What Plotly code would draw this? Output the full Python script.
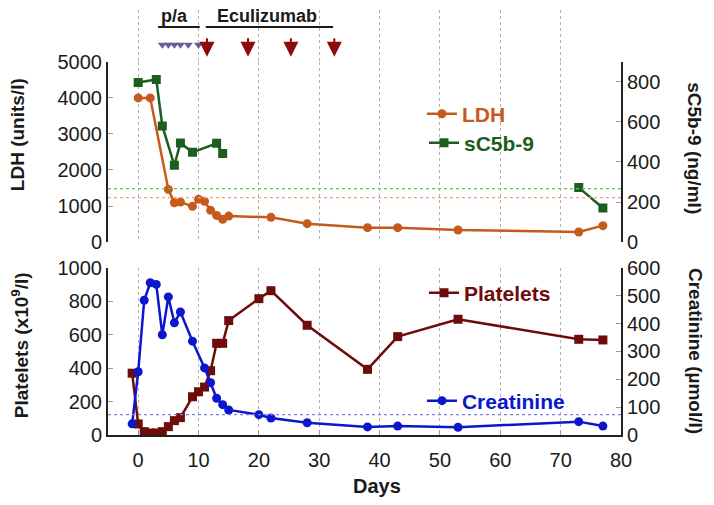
import plotly.graph_objects as go

# ---------------- data ----------------
ldh_days = [0, 2, 5, 6, 7, 9, 10, 11, 12, 13, 14, 15, 22, 28, 38, 43, 53, 73, 77]
ldh_vals = [4000, 4000, 1460, 1090, 1110, 990, 1190, 1130, 880, 740, 630, 720, 685, 510, 400, 400, 335, 280, 455]

c5b9_days_a = [0, 3, 4, 6, 7, 9, 13, 14]
c5b9_vals_a = [797, 812, 580, 383, 495, 448, 493, 442]
c5b9_days_b = [73, 77]
c5b9_vals_b = [272, 170]

plt_days = [-1, 0, 1, 2, 3, 4, 5, 6, 7, 9, 10, 11, 12, 13, 14, 15, 20, 22, 28, 38, 43, 53, 73, 77]
plt_vals = [370, 66, 20, 12, 12, 20, 50, 86, 104, 229, 259, 287, 385, 549, 549, 685, 816, 864, 657, 393, 589, 693, 573, 569]

crea_days = [-1, 0, 1, 2, 3, 4, 5, 6, 7, 9, 11, 12, 13, 14, 15, 20, 22, 28, 38, 43, 53, 73, 77]
crea_vals = [40, 227, 484, 547, 541, 360, 496, 403, 442, 337, 241, 188, 132, 109, 90, 73, 61, 44, 29, 32, 28, 48, 32]

ldh_ref = 1230
c5b9_ref = 267
crea_ref = 73

pa_days = [4, 5, 6, 7, 8.3, 10]
ecu_days = [11.4, 18.2, 25.3, 32.5]

x_ticks = [0, 10, 20, 30, 40, 50, 60, 70, 80]

# ---------------- style ----------------
FONT = "Liberation Sans, Arial, sans-serif"
C_LDH = "#c65a1c"
C_C5B = "#1c5e1f"
C_PLT = "#6e0b0b"
C_CRE = "#0c16cc"
C_PA = "#6c5b9b"
C_ARR = "#8b0a0a"
TXT = "#1a1a1a"

fig = go.Figure()

fig.add_trace(go.Scatter(x=ldh_days, y=ldh_vals, name="LDH", mode="lines+markers",
                         line=dict(color=C_LDH, width=2.5), marker=dict(symbol="circle", size=9, color=C_LDH),
                         xaxis="x", yaxis="y", legend="legend"))
fig.add_trace(go.Scatter(x=c5b9_days_a, y=c5b9_vals_a, name="sC5b-9", mode="lines+markers",
                         line=dict(color=C_C5B, width=2.5), marker=dict(symbol="square", size=9, color=C_C5B),
                         xaxis="x", yaxis="y2", legend="legend2"))
fig.add_trace(go.Scatter(x=c5b9_days_b, y=c5b9_vals_b, name="sC5b-9", mode="lines+markers", showlegend=False,
                         line=dict(color=C_C5B, width=2.5), marker=dict(symbol="square", size=9, color=C_C5B),
                         xaxis="x", yaxis="y2"))
fig.add_trace(go.Scatter(x=plt_days, y=plt_vals, name="Platelets", mode="lines+markers",
                         line=dict(color=C_PLT, width=2.5), marker=dict(symbol="square", size=9, color=C_PLT),
                         xaxis="x2", yaxis="y3", legend="legend3"))
fig.add_trace(go.Scatter(x=crea_days, y=crea_vals, name="Creatinine", mode="lines+markers",
                         line=dict(color=C_CRE, width=2.5), marker=dict(symbol="circle", size=9, color=C_CRE),
                         xaxis="x2", yaxis="y4", legend="legend4"))

# plasma-exchange triangles in a thin strip above the top panel
fig.add_trace(go.Scatter(x=pa_days, y=[0.33] * len(pa_days), mode="markers", showlegend=False,
                         marker=dict(symbol="triangle-down", size=8, color=C_PA),
                         xaxis="x", yaxis="y5", hoverinfo="skip"))

# reference lines
fig.add_shape(type="line", xref="x domain", yref="y", x0=0, x1=1, y0=ldh_ref, y1=ldh_ref,
              line=dict(color="#f2a57a", width=1.2, dash="dot"))
fig.add_shape(type="line", xref="x domain", yref="y2", x0=0, x1=1, y0=c5b9_ref, y1=c5b9_ref,
              line=dict(color="#5cc35c", width=1.2, dash="dot"))
fig.add_shape(type="line", xref="x2 domain", yref="y4", x0=0, x1=1, y0=crea_ref, y1=crea_ref,
              line=dict(color="#7d7df0", width=1.2, dash="dot"))

# eculizumab arrows
for d in ecu_days:
    fig.add_annotation(x=d, y=0.1, xref="x", yref="y5", text="", showarrow=True,
                       ax=0, ay=-20, arrowhead=2, arrowsize=1.5, arrowwidth=2, arrowcolor=C_ARR)

# top labels with underlines
fig.add_annotation(x=6.1, y=0.987, xref="x", yref="paper", text="<b>p/a</b>", showarrow=False,
                   xanchor="center", yanchor="middle", font=dict(family=FONT, size=18, color=TXT))
fig.add_annotation(x=21.3, y=0.987, xref="x", yref="paper", text="<b>Eculizumab</b>", showarrow=False,
                   xanchor="center", yanchor="middle", font=dict(family=FONT, size=18, color=TXT))
fig.add_shape(type="line", xref="x", yref="paper", x0=3.3, x1=10.2, y0=0.96, y1=0.96,
              line=dict(color=TXT, width=2))
fig.add_shape(type="line", xref="x", yref="paper", x0=11.2, x1=32.3, y0=0.96, y1=0.96,
              line=dict(color=TXT, width=2))

# axis titles
tfont = dict(family=FONT, size=19, color=TXT)
common_ann = dict(xref="paper", yref="paper", showarrow=False, xanchor="center", yanchor="middle", font=tfont)
fig.add_annotation(x=-0.175, y=0.706, text="<b>LDH (units/l)</b>", textangle=-90, **common_ann)
fig.add_annotation(x=-0.171, y=0.212, text="<b>Platelets (x10<sup>9</sup>/l)</b>", textangle=-90, **common_ann)
fig.add_annotation(x=1.144, y=0.675, text="<b>sC5b-9 (ng/ml)</b>", textangle=90, **common_ann)
fig.add_annotation(x=1.144, y=0.198, text="<b>Creatinine (µmol/l)</b>", textangle=90, **common_ann)
fig.add_annotation(x=0.524, y=-0.12, xref="paper", yref="paper", text="<b>Days</b>", showarrow=False,
                   xanchor="center", yanchor="middle", font=dict(family=FONT, size=20, color=TXT))

tickfont = dict(family=FONT, size=20, color=TXT)
ycommon = dict(showgrid=False, zeroline=False, showline=True, linecolor="#222", linewidth=2,
               ticks="inside", ticklen=5, tickcolor="#999", tickfont=tickfont, automargin=False)

TOP_DOM = [0.454, 0.878]
BOT_DOM = [0, 0.393]

fig.update_layout(
    width=714, height=505,
    margin=dict(l=108, r=93, t=10, b=70, autoexpand=False),
    paper_bgcolor="white", plot_bgcolor="white",
    font=dict(family=FONT, color=TXT),
    xaxis=dict(domain=[0, 1], range=[-5, 80], anchor="y", tickvals=x_ticks, showticklabels=False,
               showgrid=True, gridcolor="#b0b0b0", griddash="dot", gridwidth=1,
               zeroline=False, showline=False, ticks="", automargin=False),
    yaxis=dict(domain=TOP_DOM, range=[0, 5000], dtick=1000, anchor="x", side="left", **ycommon),
    yaxis2=dict(range=[0, 900], tickvals=[0, 200, 400, 600, 800], overlaying="y", anchor="x", side="right",
                **ycommon),
    yaxis5=dict(domain=[0.878, 1], range=[0, 1], anchor="x", visible=False, automargin=False),
    xaxis2=dict(domain=[0, 1], range=[-5, 80], anchor="y3", tickvals=x_ticks, tickfont=tickfont,
                showgrid=True, gridcolor="#b0b0b0", griddash="dot", gridwidth=1,
                zeroline=False, showline=True, linecolor="#222", linewidth=2,
                ticks="inside", ticklen=5, tickcolor="#999", ticklabelstandoff=6, automargin=False),
    yaxis3=dict(domain=BOT_DOM, range=[0, 1000], dtick=200, anchor="x2", side="left", **ycommon),
    yaxis4=dict(range=[0, 600], dtick=100, overlaying="y3", anchor="x2", side="right", **ycommon),
    legend=dict(x=0.612, y=0.755, xanchor="left", yanchor="middle", bgcolor="rgba(0,0,0,0)",
                font=dict(family=FONT, size=21, color=C_LDH, weight="bold")),
    legend2=dict(x=0.616, y=0.687, xanchor="left", yanchor="middle", bgcolor="rgba(0,0,0,0)",
                 font=dict(family=FONT, size=21, color=C_C5B, weight="bold")),
    legend3=dict(x=0.616, y=0.334, xanchor="left", yanchor="middle", bgcolor="rgba(0,0,0,0)",
                 font=dict(family=FONT, size=21, color=C_PLT, weight="bold")),
    legend4=dict(x=0.612, y=0.080, xanchor="left", yanchor="middle", bgcolor="rgba(0,0,0,0)",
                 font=dict(family=FONT, size=21, color=C_CRE, weight="bold")),
)

fig.write_html("out.html", config={"displayModeBar": False},
               post_script="document.body.style.margin='0px';")
